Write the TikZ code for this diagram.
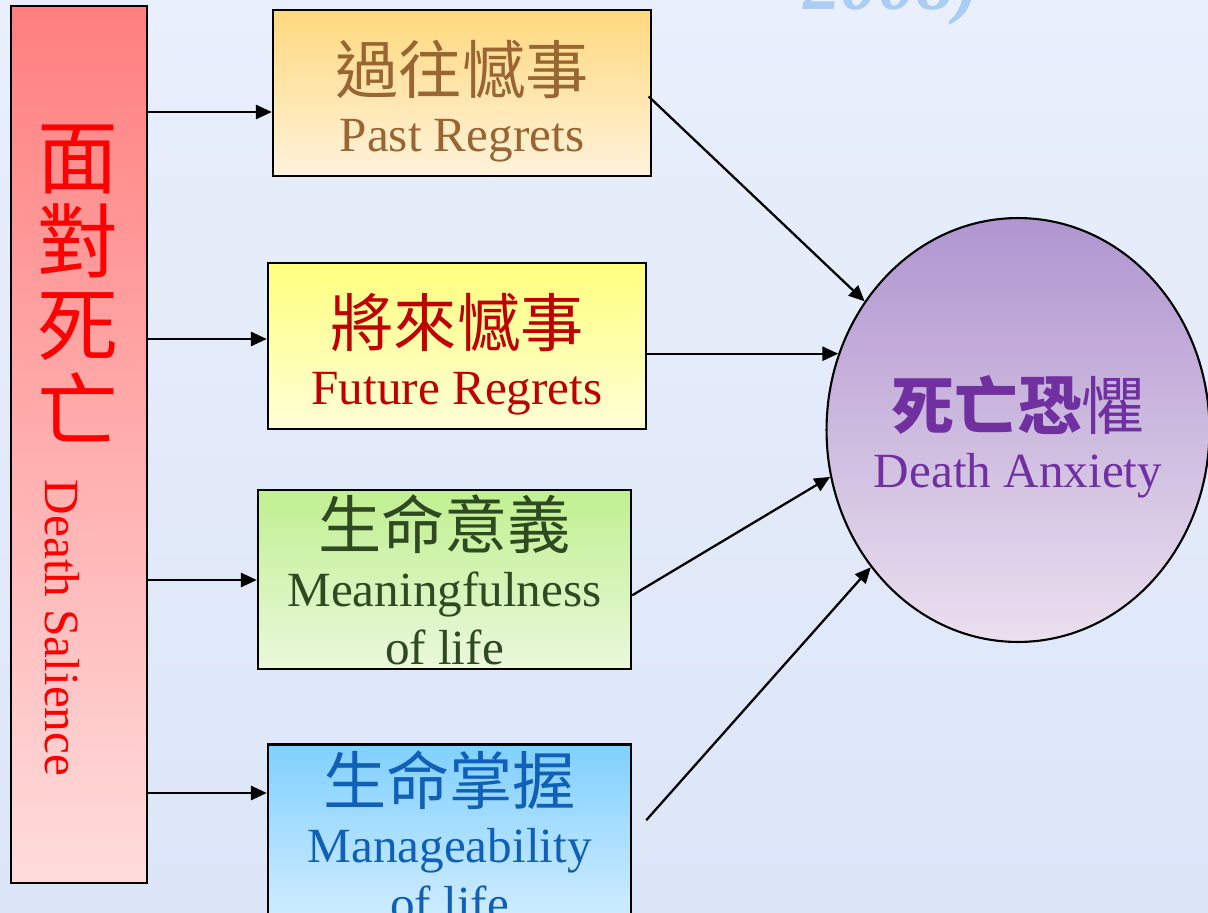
\documentclass[tikz,border=0pt]{standalone}
\usepackage{fontspec}
\setmainfont{Liberation Serif}
\newfontfamily\cjk{Noto Sans CJK TC}
\usetikzlibrary{arrows.meta,shapes.geometric}
\definecolor{bgA}{HTML}{E9EFFB}
\definecolor{bgB}{HTML}{DCE6F8}
\definecolor{yearC}{HTML}{A9CDF3}
\definecolor{barA}{HTML}{FF7F7F}
\definecolor{barB}{HTML}{FFDCDC}
\definecolor{pastA}{HTML}{FFD97F}
\definecolor{pastB}{HTML}{FFF3DC}
\definecolor{pastT}{HTML}{996633}
\definecolor{futA}{HTML}{FFFF7F}
\definecolor{futB}{HTML}{FFFFD8}
\definecolor{futT}{HTML}{C00000}
\definecolor{meanA}{HTML}{C0F090}
\definecolor{meanB}{HTML}{EAF8DC}
\definecolor{meanT}{HTML}{2F4A22}
\definecolor{manA}{HTML}{80D0FF}
\definecolor{manB}{HTML}{D4EEFF}
\definecolor{manT}{HTML}{1060B8}
\definecolor{anxA}{HTML}{B095D0}
\definecolor{anxB}{HTML}{EAE0EE}
\definecolor{anxT}{HTML}{7030A0}
\begin{document}
\begin{tikzpicture}[x=0.02cm,y=-0.02cm,
  box/.style={draw=black,line width=1.4pt,align=center,inner sep=0pt,
    font=\fontsize{28}{33}\selectfont},
  arr/.style={-{Triangle[length=9pt,width=8pt]},line width=1.3pt}]
\useasboundingbox (0,0) rectangle (1208,913);
\fill[top color=bgA,bottom color=bgB] (0,0) rectangle (1208,913);
\node[anchor=base west,text=yearC,font=\bfseries\itshape\fontsize{43}{43}\selectfont] (year) at (797,9) {2008)};

\node[draw=black,line width=1.4pt,top color=barA,bottom color=barB,minimum width=2.72cm,minimum height=17.54cm,inner sep=0pt] (bar) at (79,444.5) {};
\node[text=red,align=center,font=\cjk\fontsize{46}{48}\selectfont] (barzh) at (78,283) {面\\對\\死\\亡};
\node[text=red,rotate=-90,font=\fontsize{28}{28}\selectfont] (baren) at (62,628) {Death Salience};

\node[box,top color=pastA,bottom color=pastB,text=pastT,minimum width=7.56cm,minimum height=3.32cm] (past) at (462,93) {\rule{0pt}{40pt}{\cjk\fontsize{36}{40}\selectfont 過往憾事}\\Past Regrets};
\node[box,top color=futA,bottom color=futB,text=futT,minimum width=7.56cm,minimum height=3.32cm] (future) at (457,346) {\rule{0pt}{40pt}{\cjk\fontsize{36}{40}\selectfont 將來憾事}\\Future Regrets};
\node[box,top color=meanA,bottom color=meanB,text=meanT,minimum width=7.46cm,minimum height=3.58cm] (meaning) at (444.5,579.5) {{\cjk\fontsize{36}{40}\selectfont 生命意義}\\Meaningfulness\\of life};
\node[box,top color=manA,bottom color=manB,text=manT,minimum width=7.26cm,minimum height=3.66cm] (manage) at (449.5,836) {{\cjk\fontsize{36}{40}\selectfont 生命掌握}\\Manageability\\of life};

\node[ellipse,draw=black,line width=1.2pt,top color=anxA,bottom color=anxB,minimum width=7.66cm,minimum height=8.48cm,inner sep=0pt] (anx) at (1018,430) {};
\node[text=anxT,align=center,font=\fontsize{28}{33}\selectfont] (anxtxt) at (1018,437) {{\cjk\fontsize{36}{40}\selectfont\bfseries 死亡恐}{\cjk\fontsize{36}{40}\selectfont 懼}\\Death Anxiety};

\draw[arr] (bar.east |- 0,112) -- (past.west |- 0,112);
\draw[arr] (bar.east |- 0,339) -- (future.west |- 0,339);
\draw[arr] (bar.east |- 0,580) -- (meaning.west |- 0,580);
\draw[arr] (bar.east |- 0,793) -- (manage.west |- 0,793);

\draw[arr] ([xshift=-2pt,yshift=-2pt]past.east) -- (anx.140);
\draw[arr] (future.east |- anx.157) -- (anx.157);
\draw[arr] ([yshift=-9pt]meaning.east) -- (anx.194);
\draw[arr] ([xshift=8pt,yshift=9pt]manage.east) -- (anx.223);
\end{tikzpicture}
\end{document}
